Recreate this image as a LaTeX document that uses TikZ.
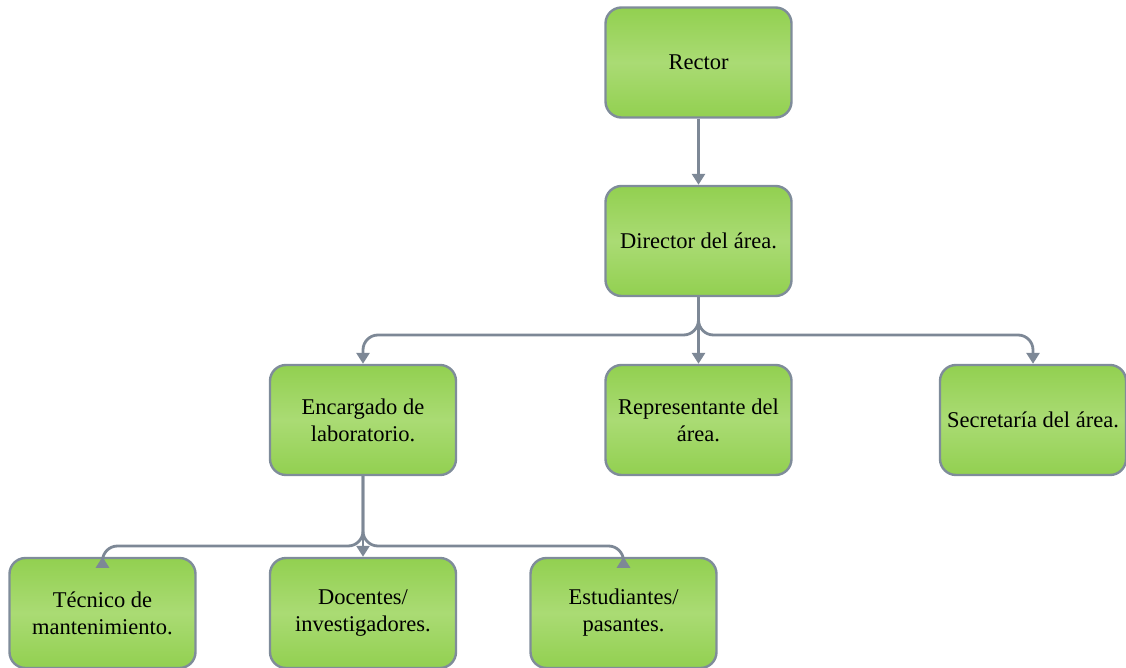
\documentclass[tikz,border=0pt]{standalone}
\usepackage{fontspec}
\setmainfont{Liberation Serif}
\usetikzlibrary{arrows.meta}
\definecolor{gtop}{HTML}{92D050}
\definecolor{gmid}{HTML}{AADB74}
\definecolor{edgec}{HTML}{7F8C9A}
\definecolor{linec}{HTML}{7D8896}
\tikzset{
  box/.style={draw=edgec, line width=2.4pt, rounded corners=16pt,
    top color=gtop, bottom color=gtop, middle color=gmid,
    minimum width=186pt, minimum height=110pt, inner sep=2pt,
    align=center, font=\fontsize{22.5}{27}\selectfont},
  conn/.style={draw=linec, line width=2.8pt, -{Triangle[length=11pt,width=13pt]}},
  bconn/.style={conn, rounded corners=15pt}
}
\begin{document}
\begin{tikzpicture}[x=1pt,y=-1pt]
\useasboundingbox (0,0) rectangle (1126,668);
\node[box] (rector) at (698.5,62.5) {Rector};
\node[box] (dir) at (698.5,241) {Director del área.};
\node[box] (enc) at (363,420) {Encargado de\\laboratorio.};
\node[box] (rep) at (698.5,420) {Representante del\\área.};
\node[box] (sec) at (1033,420) {Secretaría del área.};
\node[box] (tec) at (102.5,613) {Técnico de\\mantenimiento.};
\node[box] (doc) at (363,613) {Docentes/\\investigadores.};
\node[box] (est) at (623.5,613) {Estudiantes/\\pasantes.};
\draw[conn] (rector) -- (dir);
\draw[bconn] (dir.south) -- (698.5,335) -| (enc.north);
\draw[conn] (dir.south) -- (rep.north);
\draw[bconn] (dir.south) -- (698.5,335) -| (sec.north);
\draw[bconn] (enc.south) -- (363,546) -| (tec.north);
\draw[conn] (enc.south) -- (doc.north);
\draw[bconn] (enc.south) -- (363,546) -| (est.north);
\end{tikzpicture}
\end{document}
